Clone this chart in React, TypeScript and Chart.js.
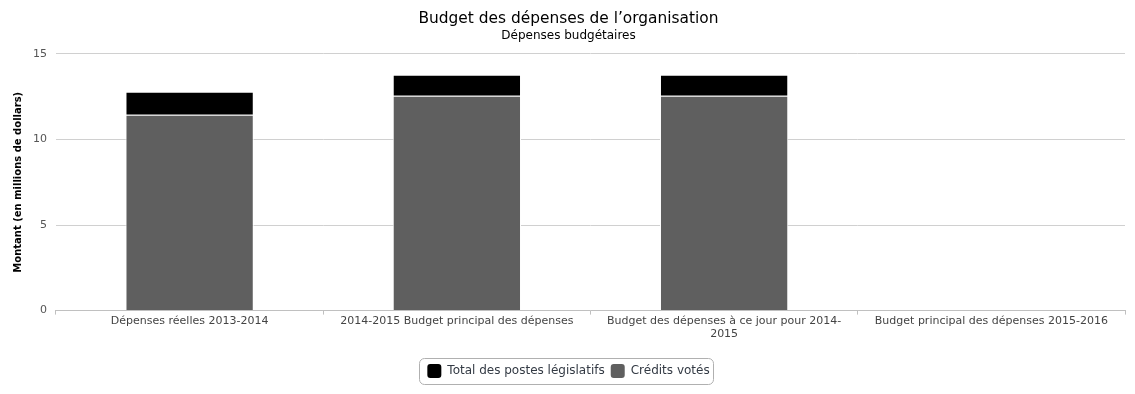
import React, { useEffect, useRef } from "react";
import { Chart, registerables } from "chart.js";

Chart.register(...registerables);

const categories: (string | string[])[] = [
  "Dépenses réelles 2013-2014",
  "2014-2015 Budget principal des dépenses",
  ["Budget des dépenses à ce jour pour 2014-", "2015"],
  "Budget principal des dépenses 2015-2016",
];
const creditsVotes = [11.44, 12.55, 12.55, 0];
const postesLegislatifs = [1.35, 1.23, 1.23, 0];
const yTicks = [0, 5, 10, 15];

const FONT = "'DejaVu Sans', sans-serif";

const legendBorder = {
  id: "legendBorder",
  afterDraw(chart: any) {
    const lg = chart.legend;
    if (!lg || !lg.legendHitBoxes || !lg.legendHitBoxes.length) return;
    const boxes = lg.legendHitBoxes;
    let l = Infinity, r = -Infinity, t = Infinity, b = -Infinity;
    boxes.forEach((h: any) => {
      l = Math.min(l, h.left);
      r = Math.max(r, h.left + h.width);
      t = Math.min(t, h.top);
      b = Math.max(b, h.top + h.height);
    });
    const ctx = chart.ctx;
    ctx.save();
    ctx.strokeStyle = "#b0b0b0";
    ctx.lineWidth = 1;
    ctx.beginPath();
    const x = Math.round(l - 8) + 0.5;
    const y = Math.round(t - 6) + 0.5;
    const w = Math.round(r - l + 12);
    const h = Math.round(b - t + 12);
    (ctx as any).roundRect(x, y, w, h, 5);
    ctx.stroke();
    ctx.restore();
  },
};

export default function App() {
  const ref = useRef<HTMLCanvasElement>(null);
  useEffect(() => {
    document.body.style.margin = "0";
    const chart = new Chart(ref.current!, {
      type: "bar",
      data: {
        labels: categories as any,
        datasets: [
          {
            label: "Crédits votés",
            data: creditsVotes,
            backgroundColor: "#5f5f5f",
            borderColor: "#ffffff",
            borderWidth: 1,
          },
          {
            label: "Total des postes législatifs",
            data: postesLegislatifs,
            backgroundColor: "#000000",
            borderColor: "#ffffff",
            borderWidth: 1,
          },
        ],
      },
      options: {
        animation: false,
        responsive: true,
        maintainAspectRatio: false,
        layout: { padding: { left: 12, right: 10, top: 0, bottom: 6 } },
        datasets: { bar: { categoryPercentage: 1, barPercentage: 0.48 } },
        scales: {
          x: {
            stacked: true,
            afterFit: (axis: any) => {
              axis.height += 17;
            },
            grid: {
              offset: true,
              drawOnChartArea: false,
              drawTicks: true,
              tickLength: 4,
              color: "#c0c0c0",
            },
            border: { color: "#c0c0c0" },
            ticks: {
              color: "#444",
              font: { family: FONT, size: 11 },
              maxRotation: 0,
              autoSkip: false,
              padding: 0,
            },
          },
          y: {
            stacked: true,
            min: 0,
            max: 15,
            afterBuildTicks: (axis: any) => {
              axis.ticks = yTicks.map((v) => ({ value: v }));
            },
            grid: { color: "#d0d0d0", drawTicks: false },
            border: { display: false },
            ticks: {
              color: "#555",
              font: { family: FONT, size: 11 },
              padding: 9,
            },
            title: {
              display: true,
              text: "Montant (en millions de dollars)",
              color: "#000",
              font: { family: FONT, size: 10, weight: "bold" },
              padding: { top: 0, bottom: 0 },
            },
          },
        },
        plugins: {
          title: {
            display: true,
            text: "Budget des dépenses de l’organisation",
            color: "#000",
            font: { family: FONT, size: 15.4, weight: "normal" },
            padding: { top: 10, bottom: 0 },
          },
          subtitle: {
            display: true,
            text: "Dépenses budgétaires",
            color: "#000",
            font: { family: FONT, size: 12, weight: "normal" },
            padding: { top: 0, bottom: 11 },
          },
          legend: {
            position: "bottom",
            reverse: true,
            labels: {
              color: "#333a44",
              font: { family: FONT, size: 12 },
              boxWidth: 14,
              boxHeight: 14,
              padding: 6,
              useBorderRadius: true,
              borderRadius: 3,
              generateLabels: (c: any) =>
                Chart.defaults.plugins.legend.labels
                  .generateLabels(c)
                  .map((it: any) => ({ ...it, strokeStyle: it.fillStyle, lineWidth: 0 })),
            },
          },
          tooltip: { enabled: false },
        },
      },
      plugins: [legendBorder],
    });
    return () => chart.destroy();
  }, []);
  return (
    <div style={{ width: 1135, height: 394, position: "relative" }}>
      <canvas ref={ref} />
    </div>
  );
}
